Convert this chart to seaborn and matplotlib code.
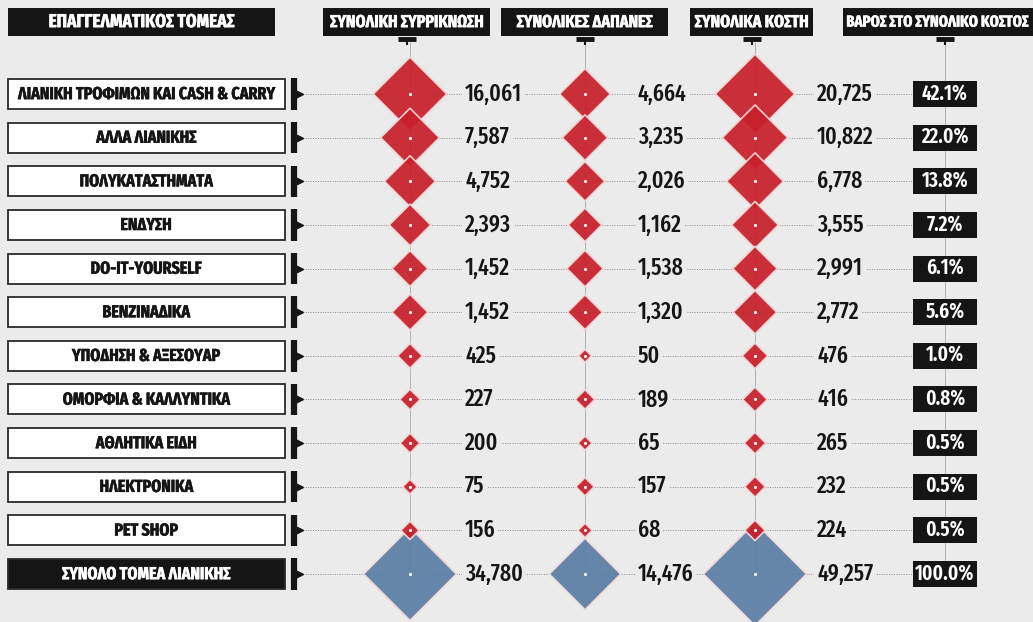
import numpy as np
import pandas as pd
import matplotlib
matplotlib.use('Agg')
import matplotlib.pyplot as plt
import matplotlib.patheffects as pe
from matplotlib.colors import PowerNorm
from matplotlib.patches import Rectangle
import seaborn as sns

sns.set_theme(style='white')
plt.rcParams['font.family'] = ['Fira Sans Extra Condensed', 'Roboto Condensed',
                               'Open Sans Condensed', 'DejaVu Sans']

# 数据
sectors = ['ΛΙΑΝΙΚΗ ΤΡΟΦΙΜΩΝ ΚΑΙ CASH & CARRY', 'ΑΛΛΑ ΛΙΑΝΙΚΗΣ', 'ΠΟΛΥΚΑΤΑΣΤΗΜΑΤΑ',
           'ΕΝΔΥΣΗ', 'DO-IT-YOURSELF', 'ΒΕΝΖΙΝΑΔΙΚΑ', 'ΥΠΟΔΗΣΗ & ΑΞΕΣΟΥΑΡ',
           'ΟΜΟΡΦΙΑ & ΚΑΛΛΥΝΤΙΚΑ', 'ΑΘΛΗΤΙΚΑ ΕΙΔΗ', 'ΗΛΕΚΤΡΟΝΙΚΑ', 'PET SHOP',
           'ΣΥΝΟΛΟ ΤΟΜΕΑ ΛΙΑΝΙΚΗΣ']
shrinkage = [16061, 7587, 4752, 2393, 1452, 1452, 425, 227, 200, 75, 156, 34780]
expenses = [4664, 3235, 2026, 1162, 1538, 1320, 50, 189, 65, 157, 68, 14476]
costs = [20725, 10822, 6778, 3555, 2991, 2772, 476, 416, 265, 232, 224, 49257]
weights = [42.1, 22.0, 13.8, 7.2, 6.1, 5.6, 1.0, 0.8, 0.5, 0.5, 0.5, 100.0]
headers = ['ΕΠΑΓΓΕΛΜΑΤΙΚΟΣ ΤΟΜΕΑΣ', 'ΣΥΝΟΛΙΚΗ ΣΥΡΡΙΚΝΩΣΗ', 'ΣΥΝΟΛΙΚΕΣ ΔΑΠΑΝΕΣ',
           'ΣΥΝΟΛΙΚΑ ΚΟΣΤΗ', 'ΒΑΡΟΣ ΣΤΟ ΣΥΝΟΛΙΚΟ ΚΟΣΤΟΣ']

BG = '#ebebeb'
RED = '#c8202b'
BLUE = '#5b7ea3'
DARK = '#151515'

fig = plt.figure(figsize=(10.33, 6.22), dpi=100, facecolor=BG)
ax = fig.add_axes([0, 0, 1, 1])
ax.set_facecolor(BG)

ROW0, STEP = 94, 43.64
def py(px):
    return (px - ROW0) / STEP

def thick(c, w=0.3):
    return [pe.withStroke(linewidth=w, foreground=c)]

n = len(sectors)
rows = np.arange(n)
col_x = {'shrink': 410, 'exp': 585, 'cost': 755}
val_x = {'shrink': 465, 'exp': 638, 'cost': 817}
pct_x = 945

# 长表
parts = []
for key, vals in [('shrink', shrinkage), ('exp', expenses), ('cost', costs)]:
    parts.append(pd.DataFrame({
        'metric': key, 'row': rows, 'value': vals, 'x': col_x[key],
        'kind': ['total' if i == n - 1 else 'sector' for i in rows]}))
long = pd.concat(parts, ignore_index=True)
# 总计先画，小菱形在上面
long = long.sort_values('kind', ascending=False, kind='stable').reset_index(drop=True)

# 网格线
ax.hlines(rows, 298, 913, colors='#8a8a8a', linestyles=(0, (1, 1.5)), lw=0.7, zorder=1)
for x in list(col_x.values()) + [pct_x]:
    ax.vlines(x, py(42), n - 1, colors='#a8a8a8', lw=0.6, zorder=1)

# 菱形
sns.scatterplot(data=long, x='x', y='row', hue='kind', palette={'sector': RED, 'total': BLUE},
                size='value', sizes=(0, 2750),
                size_norm=PowerNorm(0.6, vmin=0, vmax=max(costs)),
                marker='D', alpha=0.93, edgecolor='#f2dada', linewidth=1.2,
                legend=False, ax=ax, zorder=3)
sns.scatterplot(data=long, x='x', y='row', color='white', s=5, linewidth=0,
                legend=False, ax=ax, zorder=4)
ax.set_xlim(0, 1033)
ax.set_ylim(py(622), py(0))
ax.axis('off')

# 数值
for _, r in long.iterrows():
    ax.text(val_x[r['metric']], r['row'], f"{r['value']:,}", ha='left', va='center',
            fontsize=17, weight='medium', color=DARK, zorder=5,
            bbox=dict(fc=BG, ec='none', pad=2))

# 百分比
for i, w in enumerate(weights):
    ax.add_patch(Rectangle((913, i - 13 / STEP), 64, 26 / STEP, fc=DARK, ec='none', zorder=5))
    ax.text(pct_x, i, f'{w:.1f}%', ha='center', va='center', fontsize=15,
            color='white', weight='semibold', zorder=6)

# 左侧标签
for i, s in enumerate(sectors):
    last = i == n - 1
    tc = 'white' if last else DARK
    ax.add_patch(Rectangle((8, i - 15 / STEP), 277, 30 / STEP,
                           fc=DARK if last else 'white', ec='#2a2a2a', lw=1.3, zorder=5))
    ax.text(146, i, s, ha='center', va='center', fontsize=12.5, weight='bold',
            color=tc, zorder=6, path_effects=thick(tc))
    ax.vlines(294, i - 0.36, i + 0.36, colors=DARK, lw=4.5, zorder=5)
    ax.plot(299, i, marker='>', ms=6, color=DARK, zorder=5)

# 表头
hdr_box = [(8, 275), (323, 490), (501, 668), (690, 813), (843, 1045)]
hdr_fs = [13.5, 12.5, 12.5, 12.5, 11.5]
tick_x = [None, 407, 585, 752, 945]
for (x0, x1), h, fs, tx in zip(hdr_box, headers, hdr_fs, tick_x):
    ax.add_patch(Rectangle((x0, py(8)), x1 - x0, py(36) - py(8), fc=DARK, ec='none', zorder=5))
    cx = (x0 + x1) / 2 if x1 < 1033 else 938
    ax.text(cx, py(22), h, ha='center', va='center', fontsize=fs,
            weight='bold', color='white', zorder=6, path_effects=thick('white'))
    if tx is not None:
        ax.plot([tx - 9, tx + 9], [py(39.5), py(39.5)], lw=3.5, color=DARK,
                solid_capstyle='butt', zorder=5)
        ax.vlines(tx, py(39), py(45), colors=DARK, lw=1.5, zorder=5)

fig.savefig('out.png', dpi=100, facecolor=BG)
